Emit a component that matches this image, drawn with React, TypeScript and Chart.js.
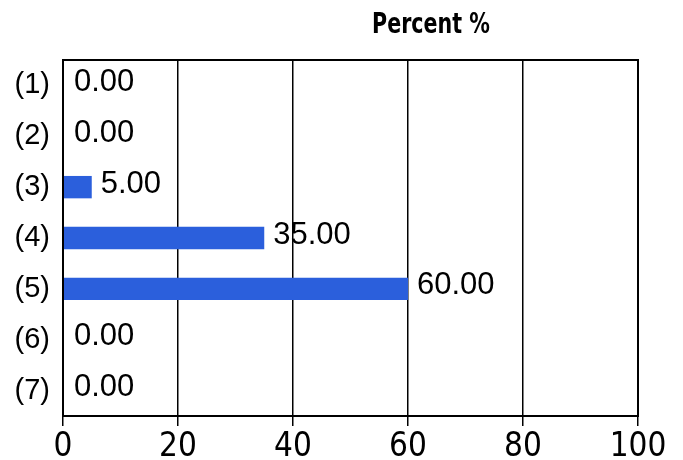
import React, { useEffect, useRef } from "react";
import { Chart, registerables } from "chart.js";

Chart.register(...registerables);

const categories = ["(1)", "(2)", "(3)", "(4)", "(5)", "(6)", "(7)"];
const percentValues = [0, 0, 5, 35, 60, 0, 0];
const xTicks = [0, 20, 40, 60, 80, 100];
const titleText = "Percent %";

const frameAndLabels = {
  id: "frameAndLabels",
  afterDatasetsDraw(chart: any) {
    const { ctx, chartArea } = chart;
    ctx.save();
    const meta = chart.getDatasetMeta(0);
    ctx.font = "31px 'Liberation Sans'";
    ctx.fillStyle = "#000";
    ctx.textAlign = "left";
    ctx.textBaseline = "middle";
    meta.data.forEach((bar: any, i: number) => {
      const v = percentValues[i];
      const x = v === 0 ? chartArea.left + 11 : bar.x + 9;
      ctx.fillText(v.toFixed(2), x, bar.y - 3);
    });
    ctx.strokeStyle = "#000";
    ctx.lineWidth = 2;
    ctx.strokeRect(chartArea.left, chartArea.top, chartArea.right - chartArea.left, chartArea.bottom - chartArea.top);
    ctx.font = "bold 29px 'DejaVu Sans Condensed', 'DejaVu Sans'";
    ctx.textAlign = "center";
    ctx.textBaseline = "middle";
    ctx.translate(chartArea.left + 0.64 * (chartArea.right - chartArea.left), 25);
    ctx.scale(0.79, 1);
    ctx.fillText(titleText, 0, 0);
    ctx.restore();
  },
};

export default function App() {
  const ref = useRef<HTMLCanvasElement | null>(null);
  useEffect(() => {
    if (!ref.current) return;
    const chart = new Chart(ref.current, {
      type: "bar",
      data: {
        labels: categories,
        datasets: [
          {
            data: percentValues,
            backgroundColor: "#2b5fdc",
            borderWidth: 0,
            barPercentage: 0.44,
            categoryPercentage: 1,
          },
        ],
      },
      options: {
        indexAxis: "y",
        animation: false,
        responsive: false,
        maintainAspectRatio: false,
        layout: { padding: { top: 60, right: 45, left: 0, bottom: 0 } },
        plugins: { legend: { display: false }, tooltip: { enabled: false }, title: { display: false } },
        scales: {
          x: {
            min: 0,
            max: 100,
            afterBuildTicks: (scale: any) => {
              scale.ticks = xTicks.map((v) => ({ value: v }));
            },
            afterFit: (scale: any) => {
              scale.height = 44;
            },
            grid: { color: "#000", lineWidth: 1.5, drawTicks: true, tickLength: 10, tickColor: "#000", tickWidth: 1.5 },
            border: { display: false },
            ticks: {
              color: "#000",
              padding: 2,
              font: { family: "'DejaVu Sans Condensed', 'DejaVu Sans'", size: 33 },
              maxRotation: 0,
            },
          },
          y: {
            afterFit: (scale: any) => {
              scale.width = 63;
            },
            grid: { display: false, drawTicks: false },
            border: { display: false },
            ticks: {
              color: "#000",
              padding: 13,
              font: { family: "'Liberation Sans'", size: 29 },
            },
          },
        },
      },
      plugins: [frameAndLabels],
    });
    return () => chart.destroy();
  }, []);
  return (
    <div style={{ position: "fixed", left: 0, top: 0, width: 683, height: 460, background: "#fff" }}>
      <canvas ref={ref} width={683} height={460} style={{ width: 683, height: 460 }} />
    </div>
  );
}
